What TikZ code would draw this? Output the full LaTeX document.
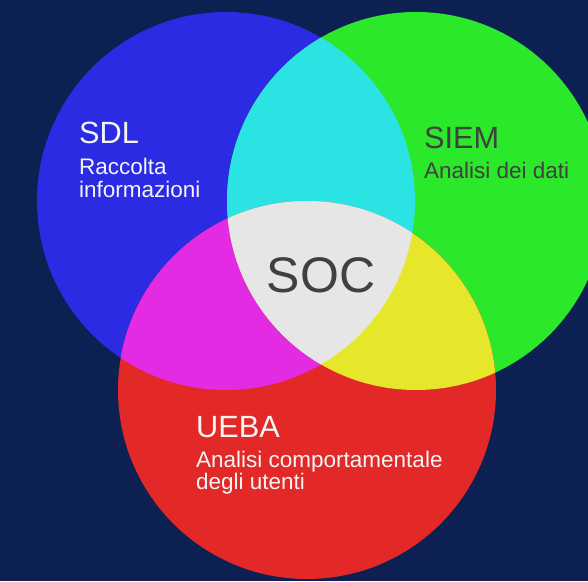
\documentclass[tikz,border=0pt]{standalone}
\usepackage{fontspec}
\setmainfont{Liberation Sans}
\usepackage{xcolor}
\definecolor{sfondo}{HTML}{0C2052}
\definecolor{cblu}{HTML}{2B2BE3}
\definecolor{cverde}{HTML}{2BE82B}
\definecolor{crosso}{HTML}{E32828}
\definecolor{cciano}{HTML}{2BE3E3}
\definecolor{cmagenta}{HTML}{E32BE3}
\definecolor{cgiallo}{HTML}{E6E62B}
\definecolor{cbianco}{HTML}{E6E6E6}
\definecolor{testochiaro}{HTML}{F4F4F4}
\definecolor{testoscuro}{HTML}{404040}
\usepackage{tikz}
\usetikzlibrary{calc,positioning}

\begin{document}
\begin{tikzpicture}[x=1pt,y=-1pt,declare function={%
			rb=189pt;
			rr=189pt;
			}
			]%
			\tikzset{
				titolo/.style={anchor=base west,inner sep=0pt,font=\fontsize{30.7}{36}\selectfont},
				sottotitolo/.style={anchor=base west,inner sep=0pt,font=\fontsize{22.5}{27}\selectfont},
				chiaro/.style={text=testochiaro},
				scuro/.style={text=testoscuro}
			}
		%%%Sfondo
		\fill[sfondo] (0,0) rectangle (588,581);
		\useasboundingbox (0,0) rectangle (588,581);
		%%%Centri dei cerchi
		\coordinate (cb) at (226,201);
		\coordinate (cg) at (416,201);
		\coordinate (cr) at (307,390);
		%%%Cerchi
		\fill[cblu] (cb) circle (rb);
		\fill[cverde] (cg) circle (rb);
		\fill[crosso] (cr) circle (rr);
		%%%Intersezioni con il blu
		\begin{scope}
			\clip (cb) circle (rb);
			\fill[cciano] (cg) circle (rb);
			\fill[cmagenta] (cr) circle (rr);
		\end{scope}
		%%%Intersezioni con il verde
		\begin{scope}
			\clip (cg) circle (rb);
			\fill[cgiallo] (cr) circle (rr);
			\clip (cb) circle (rb);
			\fill[cbianco] (cr) circle (rr);
		\end{scope}
		%%%Testi
		\node[titolo,chiaro] (sdl) at (79,143) {SDL};
		\node[sottotitolo,chiaro] (sdla) at (79,174) {Raccolta};
		\node[sottotitolo,chiaro] (sdlb) at (79,197) {informazioni};
		\node[titolo,scuro] (siem) at (424,148) {SIEM};
		\node[sottotitolo,scuro] (siema) at (424,178) {Analisi dei dati};
		\node[anchor=base,inner sep=0pt,font=\fontsize{50}{60}\selectfont,scuro] (soc) at (321,292) {SOC};
		\node[titolo,chiaro] (ueba) at (196,437) {UEBA};
		\node[sottotitolo,chiaro] (uebaa) at (196,467) {Analisi comportamentale};
		\node[sottotitolo,chiaro] (uebab) at (196,489) {degli utenti};
	\end{tikzpicture}
\end{document}
